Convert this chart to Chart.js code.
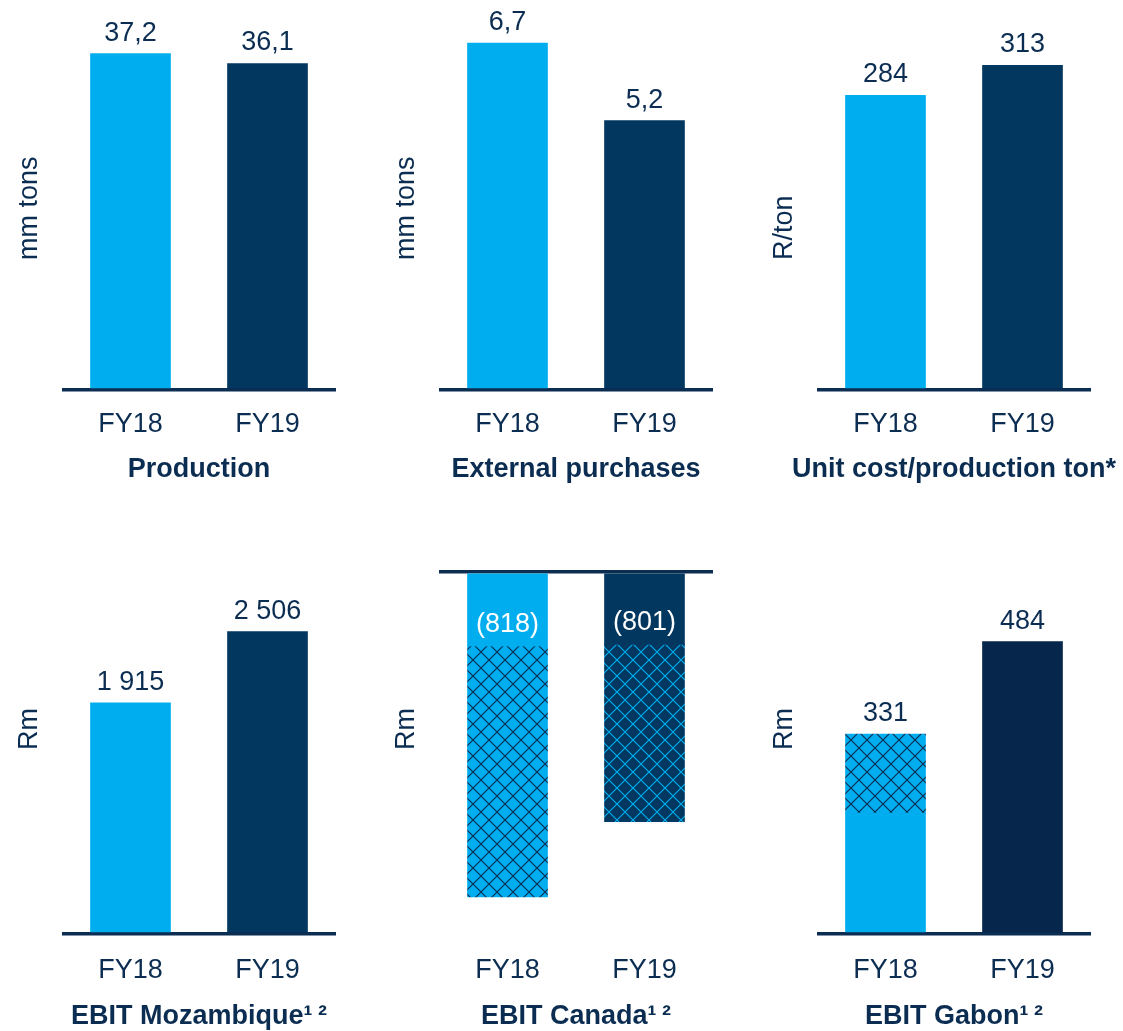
<!DOCTYPE html>
<html>
<head>
<meta charset="utf-8">
<script src="https://cdn.jsdelivr.net/npm/chart.js@4.4.1/dist/chart.umd.min.js"></script>
<style>
  html, body { margin: 0; padding: 0; background: #fff; overflow: hidden; }
  #wrap { position: relative; width: 1123px; height: 1031px; overflow: hidden; }
  .panel { position: absolute; }
</style>
</head>
<body>
<div id="wrap">
  <div class="panel" style="left:0px;top:0px;width:398px;height:486px"><canvas id="c1"></canvas></div>
  <div class="panel" style="left:377px;top:0px;width:398px;height:486px"><canvas id="c2"></canvas></div>
  <div class="panel" style="left:755px;top:0px;width:398px;height:486px"><canvas id="c3"></canvas></div>
  <div class="panel" style="left:0px;top:500px;width:398px;height:533px"><canvas id="c4"></canvas></div>
  <div class="panel" style="left:377px;top:500px;width:398px;height:533px"><canvas id="c5"></canvas></div>
  <div class="panel" style="left:755px;top:500px;width:398px;height:533px"><canvas id="c6"></canvas></div>
</div>
<script>
// data
const years = ['FY18', 'FY19'];
const production = [37.2, 36.1];
const externalPurchases = [6.7, 5.2];
const unitCost = [284, 313];
const ebitMozambique = [1915, 2506];
const ebitCanada = [-818, -801];          // reported EBIT (solid part)
const ebitCanadaHatched = [-2775, -1960]; // hatched part below
const ebitGabonSolid = [200, 484];
const ebitGabonHatched = [131, 0];

const FONT = '"Liberation Sans", Arial, sans-serif';
const navy = '#0C2D52';
const light = '#00AEEF';
const dark = '#02375F';
const darker = '#06274B';

function makeHatch(bg, fg) {
  const c = document.createElement('canvas');
  c.width = 16; c.height = 16;
  const g = c.getContext('2d');
  g.fillStyle = bg;
  g.fillRect(0, 0, 16, 16);
  g.strokeStyle = fg;
  g.lineWidth = 1.2;
  g.beginPath();
  g.moveTo(0, 0); g.lineTo(16, 16);
  g.moveTo(16, 0); g.lineTo(0, 16);
  g.stroke();
  return g.createPattern(c, 'repeat');
}

const fmtDec = v => v.toFixed(1).replace('.', ',');
const fmtInt = v => String(Math.abs(v)).replace(/\B(?=(\d{3})+(?!\d))/g, ' ');

// value labels on top of the bars (or inside for negative ones)
const barText = {
  id: 'barText',
  afterDatasetsDraw(chart, args, opts) {
    if (!opts.texts) return;
    const ctx = chart.ctx;
    ctx.save();
    ctx.font = '27px ' + FONT;
    ctx.textAlign = 'center';
    ctx.textBaseline = 'alphabetic';
    opts.texts.forEach((t, i) => {
      if (opts.inside) {
        const el = chart.getDatasetMeta(0).data[i];
        ctx.fillStyle = '#ffffff';
        ctx.fillText(t, el.x, el.y - 14);
      } else {
        let topY = Infinity, x = 0;
        chart.data.datasets.forEach((ds, d) => {
          if (!ds.data[i]) return;
          const el = chart.getDatasetMeta(d).data[i];
          if (el.y < topY) { topY = el.y; x = el.x; }
        });
        ctx.fillStyle = navy;
        ctx.fillText(t, x, topY - 13);
      }
    });
    ctx.restore();
  }
};

// rotated unit label left of the plot
const axisName = {
  id: 'axisName',
  afterDraw(chart, args, opts) {
    const ctx = chart.ctx;
    ctx.save();
    ctx.translate(chart.chartArea.left - 25, opts.bottom);
    ctx.rotate(-Math.PI / 2);
    ctx.font = '27px ' + FONT;
    ctx.fillStyle = navy;
    ctx.textAlign = 'left';
    ctx.textBaseline = 'alphabetic';
    ctx.fillText(opts.text, 0, 0);
    ctx.restore();
  }
};

function makeChart(id, cfg) {
  return new Chart(document.getElementById(id), {
    type: 'bar',
    data: { labels: years, datasets: cfg.datasets },
    options: {
      responsive: true,
      maintainAspectRatio: false,
      animation: false,
      layout: { padding: { top: cfg.padTop, left: 0, right: 0, bottom: 0 } },
      datasets: { bar: { barThickness: 80 } },
      plugins: {
        legend: { display: false },
        tooltip: { enabled: false },
        title: { display: true, position: 'bottom', text: cfg.title, color: navy, padding: 0,
                 font: { family: FONT, size: 27, weight: 'bold', lineHeight: 1.2 } },
        barText: { texts: cfg.texts, inside: cfg.inside },
        axisName: { text: cfg.unit, bottom: cfg.unitBottom }
      },
      scales: {
        x: {
          stacked: true,
          grid: { display: false, drawTicks: false },
          border: { display: false },
          ticks: { color: navy, font: { family: FONT, size: 27 }, padding: cfg.tickPad, maxRotation: 0 },
          afterFit: s => { s.height = cfg.xHeight; }
        },
        y: {
          stacked: true,
          min: cfg.min,
          max: cfg.max,
          z: 1,
          afterFit: s => { s.width = 62; },
          ticks: { display: false },
          border: { display: false },
          grid: {
            drawTicks: false,
            lineWidth: 3.5,
            color: c => c.tick.value === 0 ? navy : 'rgba(0,0,0,0)'
          }
        },
        // empty right axis, only keeps the plot centred in the canvas
        yRight: {
          position: 'right',
          afterFit: s => { s.width = 62; },
          ticks: { display: false },
          grid: { display: false },
          border: { display: false }
        }
      }
    },
    plugins: [barText, axisName]
  });
}

const topRow = { padTop: 40, xHeight: 64, tickPad: 19, unitBottom: 260 };
const bottomRow = { padTop: 72, xHeight: 67, tickPad: 21, unitBottom: 250 };

makeChart('c1', Object.assign({}, topRow, {
  title: 'Production', unit: 'mm tons', min: 0, max: 38.7,
  texts: production.map(fmtDec),
  datasets: [{ data: production, backgroundColor: [light, dark] }]
}));

makeChart('c2', Object.assign({}, topRow, {
  title: 'External purchases', unit: 'mm tons', min: 0, max: 6.76,
  texts: externalPurchases.map(fmtDec),
  datasets: [{ data: externalPurchases, backgroundColor: [light, dark] }]
}));

makeChart('c3', Object.assign({}, topRow, {
  title: 'Unit cost/production ton*', unit: 'R/ton', min: 0, max: 337.5,
  texts: unitCost.map(fmtInt),
  datasets: [{ data: unitCost, backgroundColor: [light, dark] }]
}));

makeChart('c4', Object.assign({}, bottomRow, {
  title: 'EBIT Mozambique\u00B9\u2009\u00B2', unit: 'Rm', min: 0, max: 3000,
  texts: ebitMozambique.map(fmtInt),
  datasets: [{ data: ebitMozambique, backgroundColor: [light, dark] }]
}));

makeChart('c5', Object.assign({}, bottomRow, {
  title: 'EBIT Canada\u00B9\u2009\u00B2', unit: 'Rm', min: -4000, max: 0,
  texts: ebitCanada.map(v => '(' + fmtInt(v) + ')'), inside: true,
  datasets: [
    { data: ebitCanada, backgroundColor: [light, dark] },
    { data: ebitCanadaHatched, backgroundColor: [makeHatch(light, navy), makeHatch(dark, light)] }
  ]
}));

makeChart('c6', Object.assign({}, bottomRow, {
  title: 'EBIT Gabon\u00B9\u2009\u00B2', unit: 'Rm', min: 0, max: 600,
  texts: ebitGabonSolid.map((v, i) => fmtInt(v + ebitGabonHatched[i])),
  datasets: [
    { data: ebitGabonSolid, backgroundColor: [light, darker] },
    { data: ebitGabonHatched, backgroundColor: [makeHatch(light, navy), darker] }
  ]
}));
</script>
</body>
</html>
